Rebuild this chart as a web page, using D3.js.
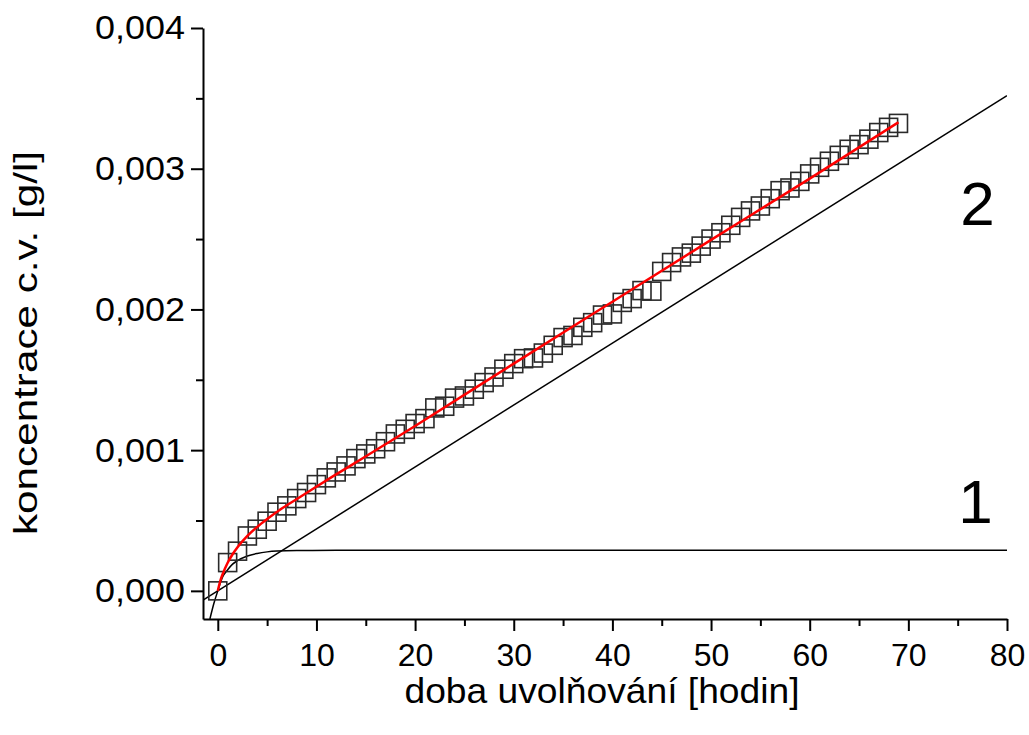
<!DOCTYPE html>
<html>
<head>
<meta charset="utf-8">
<script src="https://cdn.jsdelivr.net/npm/d3@7"></script>
<style>
  body { margin: 0; background: #fff; }
  svg { display: block; font-family: "Liberation Sans", Arial, sans-serif; }
</style>
</head>
<body>
<svg id="chart" width="1029" height="735"></svg>
<script>
// measured release (squares), hourly samples
const hours = [0,1,2,3,4,5,6,7,8,9,10,11,12,13,14,15,16,17,18,19,20,21,22,23,24,25,26,27,28,29,
  30,31,32,33,34,35,36,37,38,39,40,41,42,43,44,45,46,47,48,49,50,51,52,53,54,55,56,57,58,59,
  60,61,62,63,64,65,66,67,68,69];
const concentration = [0,0.000201,0.000282,0.00039,0.000438,0.000495,0.000559,0.000604,0.000656,0.000699,
  0.000755,0.000803,0.000845,0.000888,0.00094,0.000973,0.00101,0.00106,0.001115,0.001148,
  0.001189,0.001224,0.0013,0.001312,0.00137,0.001385,0.001433,0.00148,0.00152,0.001575,
  0.001615,0.00165,0.001655,0.00169,0.001745,0.0018,0.001815,0.001873,0.001906,0.00196,
  0.001968,0.00205,0.002077,0.002134,0.00213,0.00227,0.002333,0.002373,0.0024,0.00245,
  0.0025,0.002545,0.002598,0.002654,0.0027,0.002735,0.002787,0.002844,0.002863,0.00291,
  0.002963,0.00301,0.003053,0.003095,0.003138,0.003171,0.00321,0.003257,0.003294,0.003322];

// fitted total curve (red)
const fitT = [0,0.25,0.5,1,1.5,2,3,4,5,6.6,8.3,11.7,15.1,20,30,40,50,60,69];
const fitC = [0,0.00007,0.00012,0.0002,0.00026,0.00031,0.00039,0.000455,0.00051,0.00059,0.000665,
  0.000815,0.00096,0.001172,0.001615,0.002055,0.002494,0.00293,0.00333];

// component 1 (burst) and component 2 (linear)
const burstT = [-0.8,-0.4,0,0.5,1,1.5,2,3,4,5,6,8,12,80];
const burstC = [-0.0002,-0.00009,0,0.0001,0.00015,0.00019,0.000215,0.000248,0.000266,0.000277,
  0.000283,0.000287,0.000288,0.000288];
const linearT = [-1.5, 80];
const linearC = [-0.000066, 0.00352];

const xTicks = [0,10,20,30,40,50,60,70,80];
const xMinor = [5,15,25,35,45,55,65,75];
const yTicks = [0,0.001,0.002,0.003,0.004];
const yMinor = [0.0005,0.0015,0.0025,0.0035];
const yTickLabels = ["0,000","0,001","0,002","0,003","0,004"];

const xTitle = "doba uvolňování [hodin]";
const yTitle = "koncentrace c.v. [g/l]";

const margin = {left: 203, top: 28, right: 22, bottom: 116};
const width = 1029 - margin.left - margin.right;
const height = 735 - margin.top - margin.bottom;

const svg = d3.select("#chart");
const g = svg.append("g").attr("transform", `translate(${margin.left},${margin.top})`);

const x = d3.scaleLinear().domain([-1.5, 80]).range([0, width]);
const y = d3.scaleLinear().domain([-0.0002, 0.004]).range([height, 0]);

g.append("clipPath").attr("id", "plot").append("rect")
  .attr("width", width).attr("height", height);

const plot = g.append("g").attr("clip-path", "url(#plot)");

const straight = d3.line().x(d => x(d[0])).y(d => y(d[1]));
const smooth = d3.line().x(d => x(d[0])).y(d => y(d[1])).curve(d3.curveMonotoneX);

plot.append("path")
  .datum(d3.zip(linearT, linearC))
  .attr("d", straight)
  .attr("fill", "none").attr("stroke", "#000").attr("stroke-width", 1.5);

plot.append("path")
  .datum(d3.zip(burstT, burstC))
  .attr("d", smooth)
  .attr("fill", "none").attr("stroke", "#000").attr("stroke-width", 1.5);

const sq = 18;
plot.selectAll("rect.pt")
  .data(d3.zip(hours, concentration))
  .join("rect")
  .attr("class", "pt")
  .attr("x", d => x(d[0]) - sq / 2)
  .attr("y", d => y(d[1]) - sq / 2)
  .attr("width", sq).attr("height", sq)
  .attr("fill", "none").attr("stroke", "#2a2a2a").attr("stroke-width", 1.6);

plot.append("path")
  .datum(d3.zip(fitT, fitC))
  .attr("d", smooth)
  .attr("fill", "none").attr("stroke", "#ff0000").attr("stroke-width", 2.5);

// axes
g.append("g").attr("class", "x major").attr("transform", `translate(0,${height})`)
  .call(d3.axisBottom(x).tickValues(xTicks).tickSize(12).tickPadding(12).tickSizeOuter(0)
    .tickFormat(d => String(d)));
g.append("g").attr("transform", `translate(0,${height})`)
  .call(d3.axisBottom(x).tickValues(xMinor).tickSize(7).tickFormat("").tickSizeOuter(0))
  .select(".domain").remove();

g.append("g").attr("class", "y major")
  .call(d3.axisLeft(y).tickValues(yTicks).tickSize(12).tickPadding(6).tickSizeOuter(0)
    .tickFormat((d, i) => yTickLabels[i]));
g.append("g")
  .call(d3.axisLeft(y).tickValues(yMinor).tickSize(7).tickFormat("").tickSizeOuter(0))
  .select(".domain").remove();

g.selectAll(".domain, .tick line").attr("stroke", "#000").attr("stroke-width", 2);
g.selectAll(".tick text").attr("fill", "#000")
  .attr("font-family", "'Liberation Sans', Arial, sans-serif");
g.selectAll(".x.major .tick text").attr("font-size", 32);
g.selectAll(".y.major .tick text").attr("font-size", 34)
  .attr("textLength", 90).attr("lengthAdjust", "spacingAndGlyphs");

// axis titles
svg.append("text")
  .attr("x", 602).attr("y", 703)
  .attr("text-anchor", "middle").attr("font-size", 35)
  .attr("textLength", 395).attr("lengthAdjust", "spacingAndGlyphs")
  .text(xTitle);
svg.append("text")
  .attr("transform", `translate(37,343) rotate(-90)`)
  .attr("text-anchor", "middle").attr("font-size", 34)
  .attr("textLength", 384).attr("lengthAdjust", "spacingAndGlyphs")
  .text(yTitle);

// curve labels
g.append("text").attr("x", x(77)).attr("y", 225 - margin.top)
  .attr("text-anchor", "middle").attr("font-size", 62).text("2");
g.append("text").attr("x", x(76.8)).attr("y", 523 - margin.top)
  .attr("text-anchor", "middle").attr("font-size", 62).text("1");
</script>
</body>
</html>
